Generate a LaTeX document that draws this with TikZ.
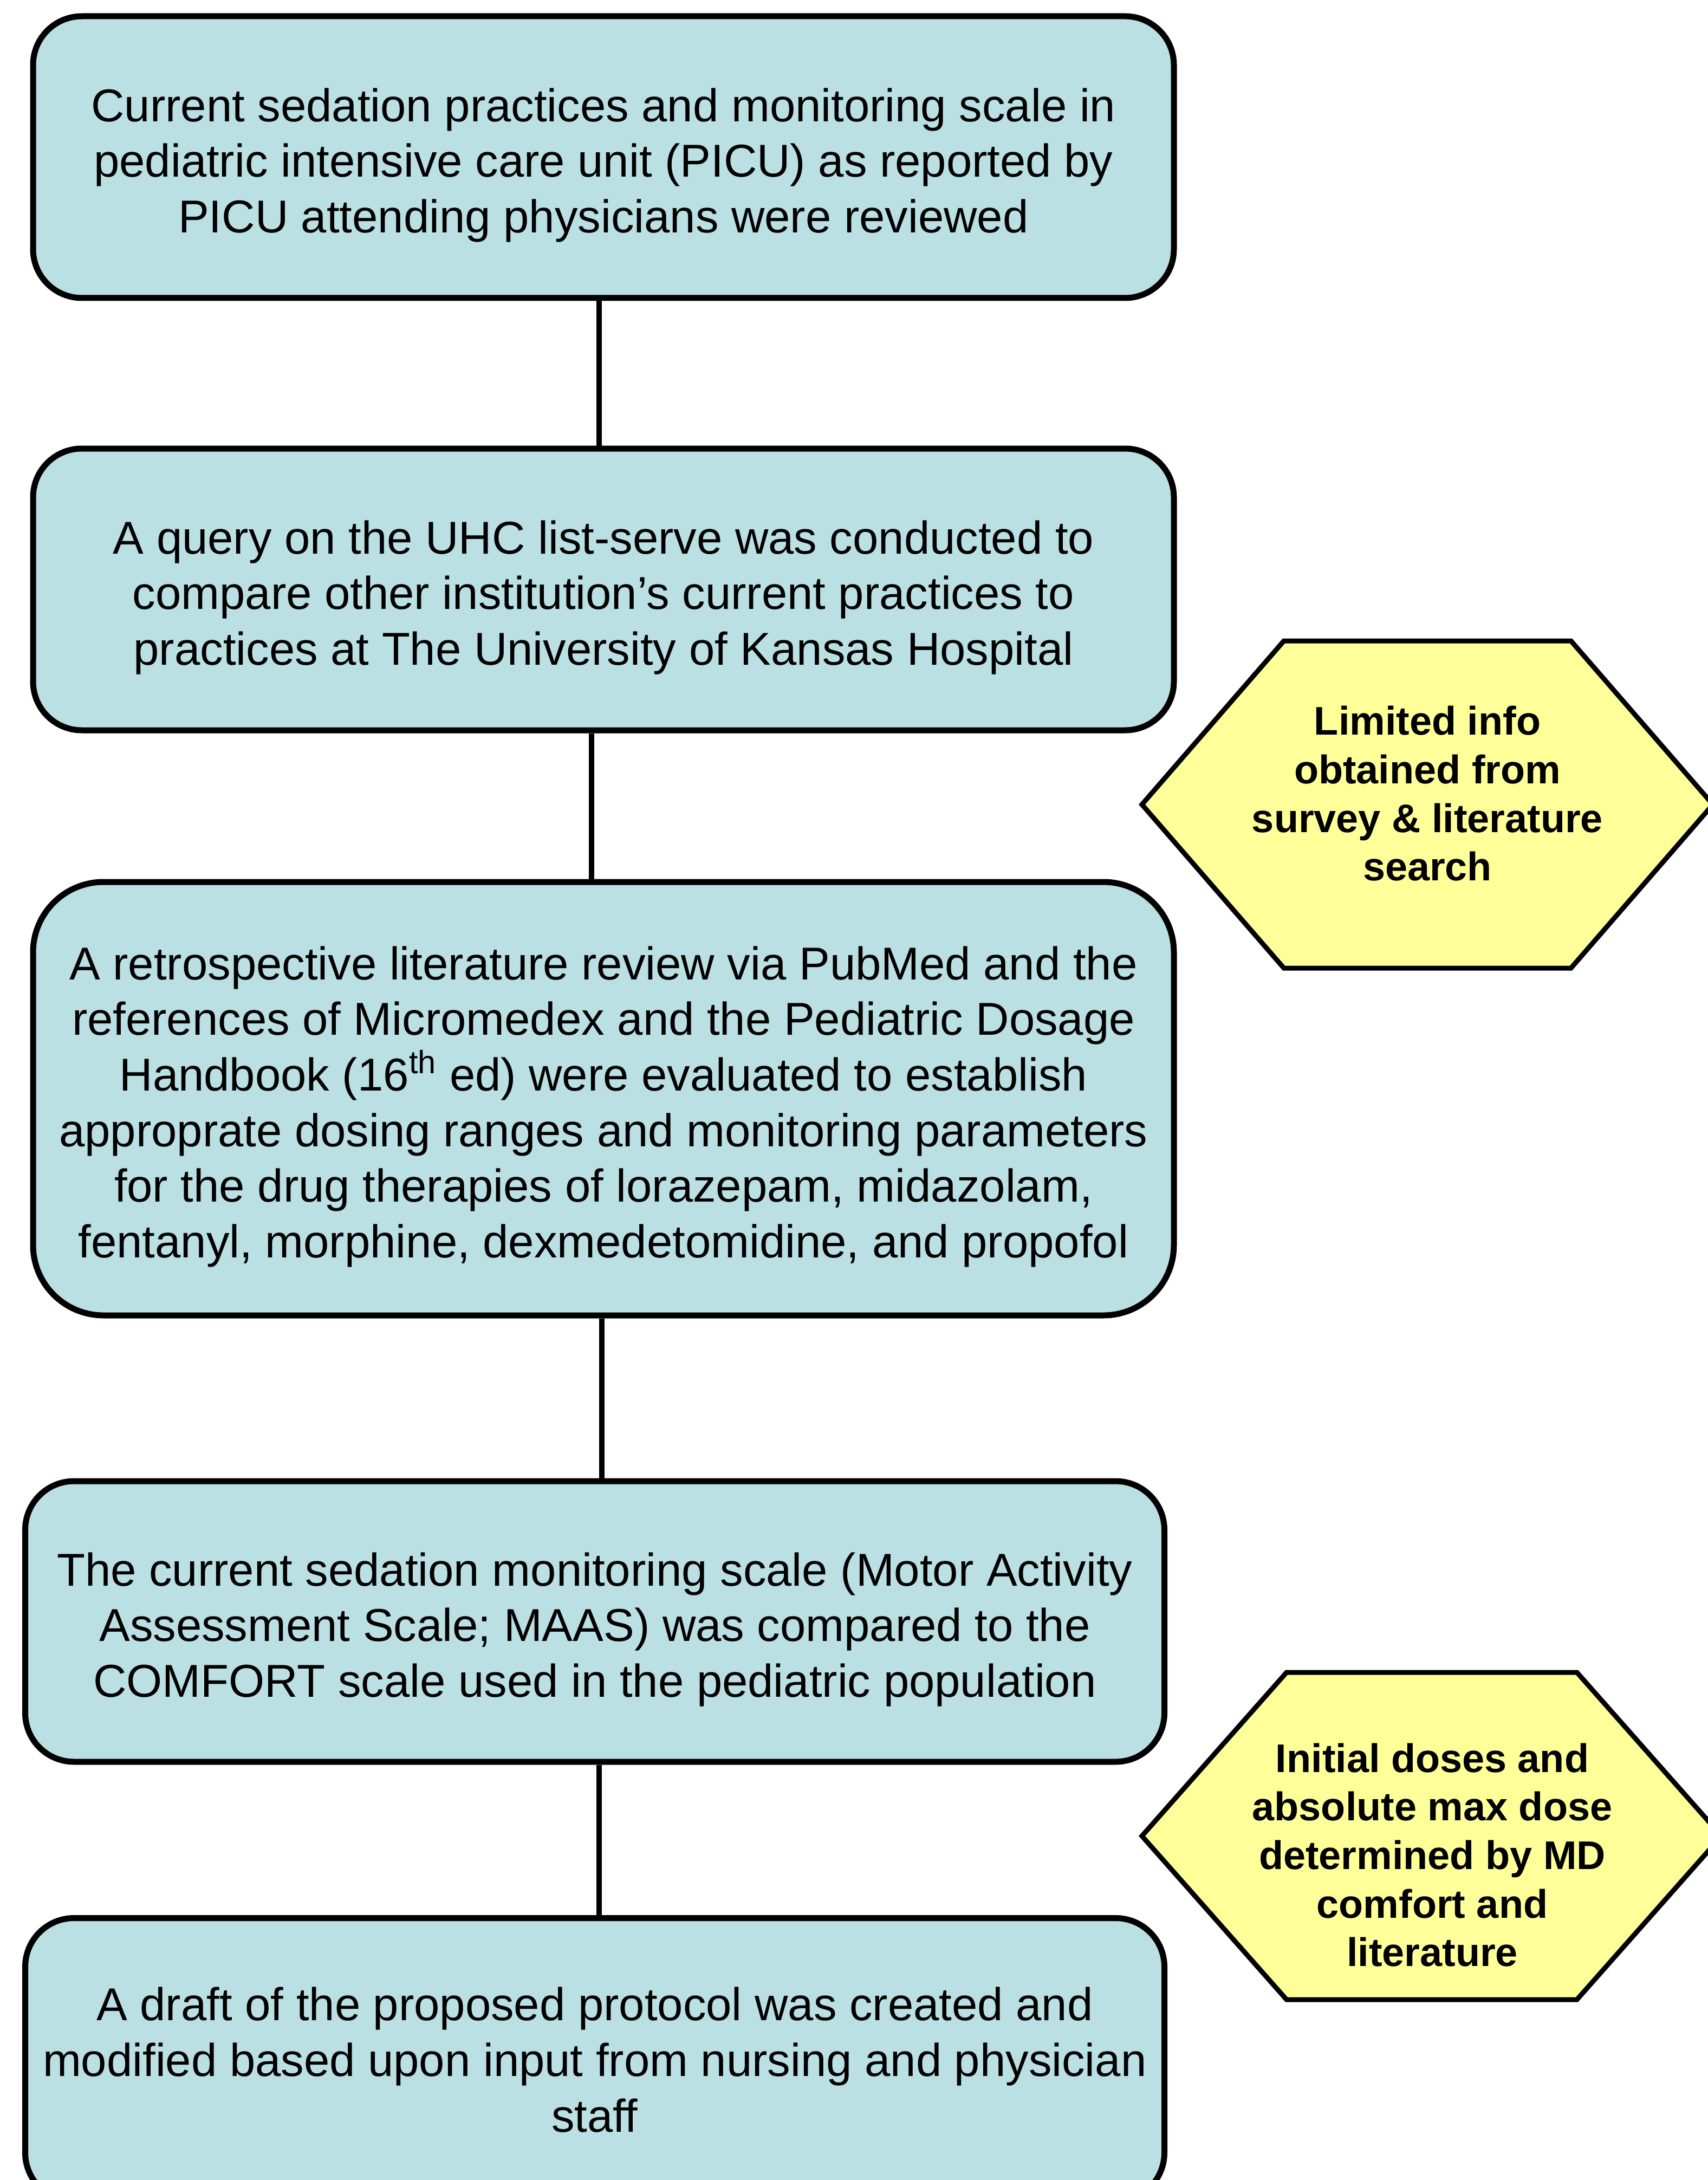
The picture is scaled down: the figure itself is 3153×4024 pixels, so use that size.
\documentclass[tikz,border=0pt]{standalone}
\usepackage{fontspec}
\setmainfont{Liberation Sans}
\usepackage{tikz}
\usetikzlibrary{positioning, calc}
\definecolor{boxblue}{HTML}{BBE0E3}
\definecolor{hexyellow}{HTML}{FFFF99}
\newcommand{\topgap}{\rule{0pt}{26pt}}
\tikzset{
    stepbox/.style={draw, fill=boxblue, line width=1.1mm, align=center, inner sep=0pt,
        minimum width=210.6mm, font=\fontsize{24.2}{29.2}\selectfont},
    hexline/.style={draw, fill=hexyellow, line width=0.9mm, line join=miter},
    hextext/.style={align=center, font=\bfseries\fontsize{21}{25.5}\selectfont},
    link/.style={line width=1mm},
}

\begin{document}
\begin{tikzpicture}[x=0.1mm, y=-0.1mm]

    \clip (0,0) rectangle (3153,4024);

    % ---------------------------------------------------
    % Main steps
    % ---------------------------------------------------
    \node[stepbox, minimum height=52mm, rounded corners=9mm] (review) at (1114,290)
        {\topgap Current sedation practices and monitoring scale in\\
         pediatric intensive care unit (PICU) as reported by\\
         PICU attending physicians were reviewed};

    \node[stepbox, minimum height=52mm, rounded corners=9mm] (query) at (1114,1088)
        {\topgap A query on the UHC list-serve was conducted to\\
         compare other institution’s current practices to\\
         practices at The University of Kansas Hospital};

    \node[stepbox, minimum height=80mm, rounded corners=13mm] (litreview) at (1114,2028)
        {\topgap A retrospective literature review via PubMed and the\\
         references of Micromedex and the Pediatric Dosage\\
         Handbook (16\textsuperscript{th} ed) were evaluated to establish\\
         approprate dosing ranges and monitoring parameters\\
         for the drug therapies of lorazepam, midazolam,\\
         fentanyl, morphine, dexmedetomidine, and propofol};

    \node[stepbox, minimum width=210.3mm, minimum height=51.8mm, rounded corners=9mm] (scale) at (1098,2993)
        {\topgap The current sedation monitoring scale (Motor Activity\\
         Assessment Scale; MAAS) was compared to the\\
         COMFORT scale used in the pediatric population};

    \node[stepbox, minimum width=210.3mm, minimum height=52.3mm, rounded corners=9mm] (draft) at (1098,3802)
        {A draft of the proposed protocol was created and\\
         modified based upon input from nursing and physician\\
         staff};

    % ---------------------------------------------------
    % Connectors
    % ---------------------------------------------------
    \draw[link] ([xshift=-0.8mm]review.south) -- ([xshift=-0.8mm]query.north);
    \draw[link] ([xshift=-2.2mm]query.south) -- ([xshift=-2.2mm]litreview.north);
    \draw[link] ([xshift=-0.3mm]litreview.south) -- ([xshift=-0.3mm]litreview.south |- scale.north);
    \draw[link] ([xshift=0.8mm]scale.south) -- ([xshift=0.8mm]draft.north);

    % ---------------------------------------------------
    % Side notes (hexagons)
    % ---------------------------------------------------
    \draw[hexline] (2108,1485) -- (2370,1183) -- (2900,1183) -- (3162,1485)
        -- (2900,1787) -- (2370,1787) -- cycle;
    \node[hextext] (limited) at (2635,1465)
        {Limited info\\ obtained from\\ survey \& literature\\ search};

    \draw[hexline] (2108,3389) -- (2375,3087) -- (2911,3087) -- (3178,3389)
        -- (2911,3691) -- (2375,3691) -- cycle;
    \node[hextext] (doses) at (2644,3424)
        {Initial doses and\\ absolute max dose\\ determined by MD\\ comfort and\\ literature};

\end{tikzpicture}
\end{document}
